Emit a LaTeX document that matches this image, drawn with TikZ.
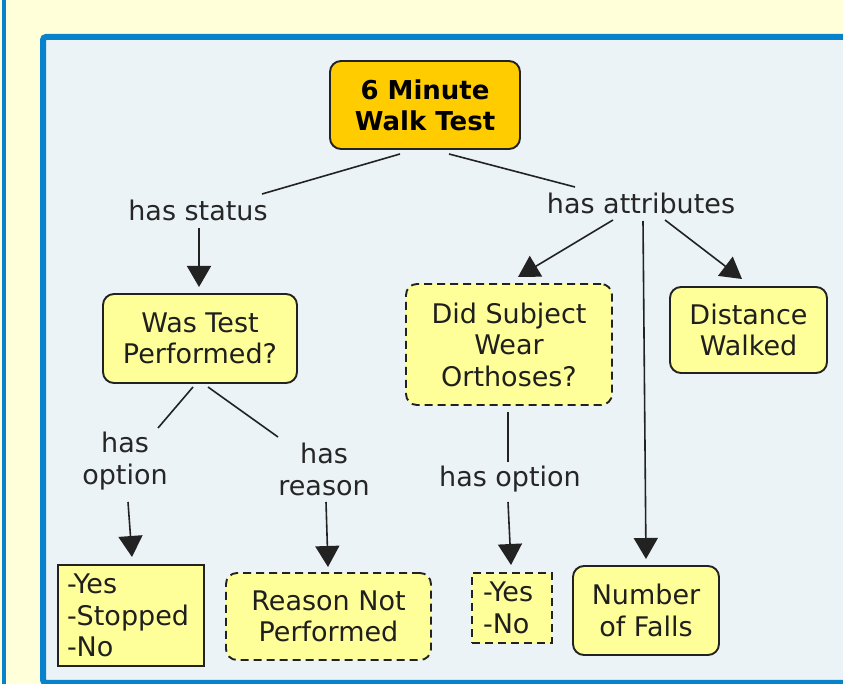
\documentclass[tikz,border=0pt]{standalone}
\usepackage{fontspec}
\setmainfont{DejaVu Sans}
\usetikzlibrary{arrows.meta,calc}

\definecolor{pagebg}{HTML}{FFFFDA}
\definecolor{framebl}{HTML}{0882CA}
\definecolor{panelbg}{HTML}{EBF3F6}
\definecolor{rootfill}{HTML}{FFCC00}
\definecolor{conceptfill}{HTML}{FFFF99}
\definecolor{inkline}{HTML}{222222}

\tikzset{
  concept/.style={draw=inkline, line width=1.9pt, fill=conceptfill,
    rounded corners=11pt, align=center, inner sep=0pt, text=black!88,
    font=\fontsize{27}{31.5}\selectfont},
  rootconcept/.style={concept, fill=rootfill, text=black,
    font=\fontsize{26}{31}\selectfont\bfseries},
  listbox/.style={concept, rounded corners=0pt, align=left},
  optional/.style={dash pattern=on 8pt off 5pt},
  linkword/.style={inner sep=0pt, align=center, text=black!85,
    font=\fontsize{27}{32}\selectfont},
  link/.style={draw=inkline, line width=1.6pt},
  linkarrow/.style={link, -{Triangle[width=24pt,length=21pt]}}
}

\begin{document}
\begin{tikzpicture}[x=1pt,y=-1pt]
  \useasboundingbox (0,0) rectangle (843,684);
  \clip (0,0) rectangle (843,684);

  % page and panel
  \fill[pagebg] (0,0) rectangle (843,684);
  \fill[framebl] (1.5,0) rectangle (6,684);
  \draw[framebl, fill=panelbg, line width=6pt, rounded corners=3pt]
    (43,37) rectangle (870,682.8);

  % concepts
  \node[rootconcept, minimum width=190pt, minimum height=88pt]
    (mwt) at (425,105) {6 Minute\\Walk Test};
  \node[concept, minimum width=194pt, minimum height=89pt]
    (wtp) at (200,338.5) {Was Test\\Performed?};
  \node[concept, optional, minimum width=206pt, minimum height=121pt]
    (dsw) at (509,344.5) {Did Subject\\Wear\\Orthoses?};
  \node[concept, minimum width=157pt, minimum height=86pt]
    (dw) at (748.5,330) {Distance\\Walked};
  \node[listbox, minimum width=146pt, minimum height=101pt, text width=128pt]
    (yes1) at (131,615.5) {\mbox{-Yes}\\\mbox{-Stopped}\\\mbox{-No}};
  \node[concept, optional, minimum width=205pt, minimum height=87pt]
    (rnp) at (328.5,616.5) {Reason Not\\Performed};
  \node[listbox, optional, minimum width=80pt, minimum height=70pt, text width=58pt]
    (yes2) at (512,608) {\mbox{-Yes}\\\mbox{-No}};
  \node[concept, minimum width=146pt, minimum height=89pt]
    (nof) at (646,610.5) {Number\\of Falls};

  % linking phrases
  \node[linkword] (hs)  at (198,210) {has status};
  \node[linkword] (ha)  at (641,203) {has attributes};
  \node[linkword] (ho1) at (125,461) {has\\option};
  \node[linkword] (hr)  at (324,469) {has\\reason};
  \node[linkword] (ho2) at (510,479) {has option};

  % connectors
  \draw[link] ($(mwt)+(-25,49)$) -- ($(hs)+(64,-16)$);
  \draw[link] ($(mwt)+(24,49)$) -- ($(ha)+(-66,-16)$);
  \draw[linkarrow] ($(hs)+(1,18)$) -- ($(wtp)+(-1,-51.5)$);
  \draw[linkarrow] ($(ha)+(-28,17)$) -- ($(dsw)+(9,-67.5)$);
  \draw[linkarrow] ($(ha)+(2,18)$) -- ($(nof)+(0,-51.5)$);
  \draw[linkarrow] ($(ha)+(24,17)$) -- ($(dw)+(-6.5,-51)$);
  \draw[link] ($(wtp)+(-7,48.5)$) -- ($(ho1)+(33,-33)$);
  \draw[link] ($(wtp)+(8,48.5)$) -- ($(hr)+(-46,-32)$);
  \draw[linkarrow] ($(ho1)+(3,41)$) -- ($(yes1)+(1,-58.5)$);
  \draw[linkarrow] ($(hr)+(2,33)$) -- ($(rnp)+(-0.5,-49.5)$);
  \draw[link] ($(dsw)+(-1,67.5)$) -- ($(ho2)+(-2,-17)$);
  \draw[linkarrow] ($(ho2)+(-2,23)$) -- ($(yes2)+(-1,-43)$);
\end{tikzpicture}
\end{document}
